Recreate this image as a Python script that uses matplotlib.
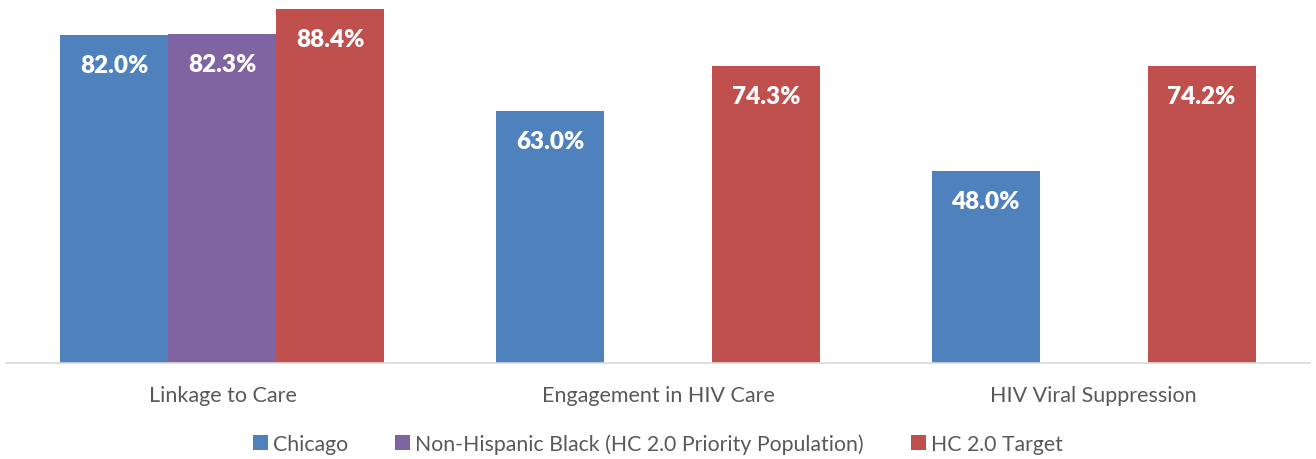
import matplotlib
matplotlib.use("Agg")

import matplotlib.pyplot as plt
import numpy as np

plt.rcParams["font.family"] = ["Lato", "DejaVu Sans"]

categories = ["Linkage to Care", "Engagement in HIV Care", "HIV Viral Suppression"]
series_names = ["Chicago", "Non-Hispanic Black (HC 2.0 Priority Population)", "HC 2.0 Target"]
chicago = [82.0, 63.0, 48.0]
nh_black = [82.3, np.nan, np.nan]
hc_target = [88.4, 74.3, 74.2]
colors = ["#4F81BD", "#8064A2", "#C0504D"]

fig = plt.figure(figsize=(13.16, 4.6), dpi=100)
ax = fig.add_axes([6 / 1316, 1 - 364 / 460, 1304 / 1316, 364 / 460])

x = np.arange(len(categories))
width = 0.248
for k, (vals, name, c) in enumerate(zip([chicago, nh_black, hc_target], series_names, colors)):
    pos = x + (k - 1) * width
    ax.bar(pos, vals, width, color=c, label=name, edgecolor="none")
    for xi, v in zip(pos, vals):
        if np.isnan(v):
            continue
        ax.text(xi, v - 7.5, f"{v:.1f}%", ha="center", va="center",
                color="white", fontsize=17.5, fontweight="heavy")

ax.set_xlim(-0.497, 2.497)
ax.set_ylim(0, 91.0)
for s in ["top", "right", "left"]:
    ax.spines[s].set_visible(False)
ax.spines["bottom"].set_color("#D9D9D9")
ax.spines["bottom"].set_linewidth(1.2)
ax.set_yticks([])
ax.set_xticks(x)
ax.set_xticklabels(categories, fontsize=15.5, color="#595959")
ax.tick_params(axis="x", length=0, pad=16)

fig.legend(loc="center", bbox_to_anchor=(0.5, 1 - 445 / 460), ncol=3, frameon=False,
           fontsize=15.3, handlelength=0.7, handleheight=0.7, handletextpad=0.25,
           columnspacing=2.2, labelcolor="#595959")

fig.savefig("out.png", dpi=100)
